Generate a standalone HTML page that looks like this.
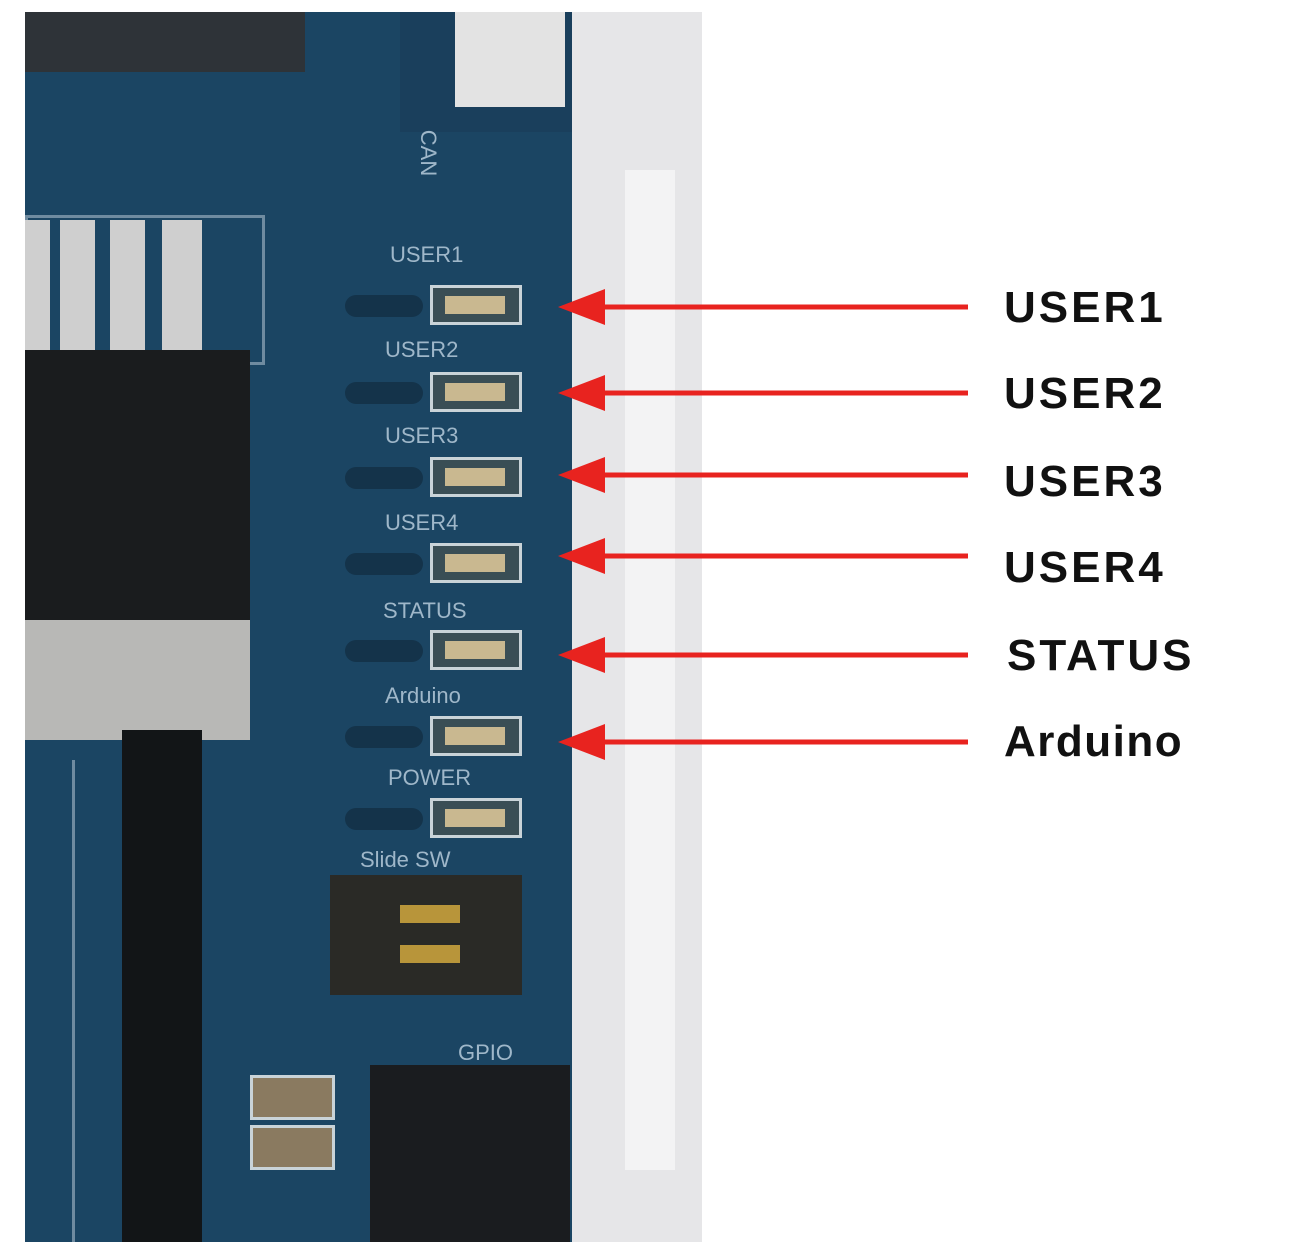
<!DOCTYPE html>
<html><head><meta charset="utf-8"><style>
body{margin:0;width:1300px;height:1260px;background:#fff;position:relative;overflow:hidden;font-family:"Liberation Sans",sans-serif}
.a{position:absolute}
.lbl{position:absolute;left:1004px;font-weight:bold;font-size:44px;color:#111;letter-spacing:3px}
.sl{position:absolute;color:#9fb7c9;font-size:22px;font-family:"Liberation Sans",sans-serif}
.led{position:absolute;left:430px;width:92px;height:40px;border:3px solid #c9d3d8;box-sizing:border-box;background:#3a4e55}
.led i{position:absolute;left:12px;top:8px;width:60px;height:18px;background:#c9b890}
.sm{position:absolute;left:345px;width:78px;height:22px;border-radius:11px;background:#14334a}
</style></head><body>
<div class="a" style="left:25px;top:12px;width:677px;height:1230px;background:#1b4563"></div>
<div class="a" style="left:572px;top:12px;width:130px;height:1230px;background:#e6e6e8"></div>
<div class="a" style="left:625px;top:170px;width:50px;height:1000px;background:#f3f3f4"></div>
<div class="a" style="left:400px;top:12px;width:172px;height:120px;background:#1a3f5c"></div>
<div class="a" style="left:455px;top:12px;width:110px;height:95px;background:#e3e3e3"></div>
<div class="a" style="left:25px;top:12px;width:280px;height:60px;background:#2e3338"></div>
<div class="a" style="left:25px;top:215px;width:240px;height:150px;border:3px solid #6f8ba0;box-sizing:border-box"></div>
<div class="a" style="left:25px;top:220px;width:25px;height:135px;background:#cfcfcf"></div>
<div class="a" style="left:60px;top:220px;width:35px;height:135px;background:#cfcfcf"></div>
<div class="a" style="left:110px;top:220px;width:35px;height:135px;background:#cfcfcf"></div>
<div class="a" style="left:162px;top:220px;width:40px;height:135px;background:#cfcfcf"></div>
<div class="a" style="left:25px;top:350px;width:225px;height:280px;background:#1a1c1e"></div>
<div class="a" style="left:25px;top:620px;width:225px;height:120px;background:#b8b8b6"></div>
<div class="a" style="left:122px;top:730px;width:80px;height:512px;background:#121517"></div>
<div class="a" style="left:25px;top:760px;width:50px;height:482px;border-right:3px solid #6f8ba0;box-sizing:border-box"></div>
<div class="sl" style="left:390px;top:242px">USER1</div>
<div class="sl" style="left:385px;top:337px">USER2</div>
<div class="sl" style="left:385px;top:423px">USER3</div>
<div class="sl" style="left:385px;top:510px">USER4</div>
<div class="sl" style="left:383px;top:598px">STATUS</div>
<div class="sl" style="left:385px;top:683px">Arduino</div>
<div class="sl" style="left:388px;top:765px">POWER</div>
<div class="sl" style="left:360px;top:847px">Slide SW</div>
<div class="sl" style="left:458px;top:1040px">GPIO</div>
<div class="sl" style="left:405px;top:140px;transform:rotate(90deg)">CAN</div>
<div class="led" style="top:285px"><i></i></div><div class="sm" style="top:295px"></div>
<div class="led" style="top:372px"><i></i></div><div class="sm" style="top:382px"></div>
<div class="led" style="top:457px"><i></i></div><div class="sm" style="top:467px"></div>
<div class="led" style="top:543px"><i></i></div><div class="sm" style="top:553px"></div>
<div class="led" style="top:630px"><i></i></div><div class="sm" style="top:640px"></div>
<div class="led" style="top:716px"><i></i></div><div class="sm" style="top:726px"></div>
<div class="led" style="top:798px"><i></i></div><div class="sm" style="top:808px"></div>
<div class="a" style="left:330px;top:875px;width:192px;height:120px;background:#2a2a26"></div>
<div class="a" style="left:400px;top:905px;width:60px;height:18px;background:#b8953a"></div>
<div class="a" style="left:400px;top:945px;width:60px;height:18px;background:#b8953a"></div>
<div class="a" style="left:370px;top:1065px;width:200px;height:177px;background:#1a1c1f"></div>
<div class="a" style="left:250px;top:1075px;width:85px;height:45px;border:3px solid #c9d3d8;box-sizing:border-box;background:#8a7a60"></div>
<div class="a" style="left:250px;top:1125px;width:85px;height:45px;border:3px solid #c9d3d8;box-sizing:border-box;background:#8a7a60"></div>
<svg class="a" style="left:0;top:0" width="1300" height="1260">
<g stroke="#e8231f" stroke-width="5" fill="#e8231f">
<line x1="600" y1="307" x2="968" y2="307"/><polygon stroke="none" points="558,307 605,289 605,325"/>
<line x1="600" y1="393" x2="968" y2="393"/><polygon stroke="none" points="558,393 605,375 605,411"/>
<line x1="600" y1="475" x2="968" y2="475"/><polygon stroke="none" points="558,475 605,457 605,493"/>
<line x1="600" y1="556" x2="968" y2="556"/><polygon stroke="none" points="558,556 605,538 605,574"/>
<line x1="600" y1="655" x2="968" y2="655"/><polygon stroke="none" points="558,655 605,637 605,673"/>
<line x1="600" y1="742" x2="968" y2="742"/><polygon stroke="none" points="558,742 605,724 605,760"/>
</g></svg>
<div class="lbl" style="top:283px">USER1</div>
<div class="lbl" style="top:369px">USER2</div>
<div class="lbl" style="top:457px">USER3</div>
<div class="lbl" style="top:543px">USER4</div>
<div class="lbl" style="top:631px;left:1007px">STATUS</div>
<div class="lbl" style="top:717px;letter-spacing:1.5px">Arduino</div>
</body></html>
